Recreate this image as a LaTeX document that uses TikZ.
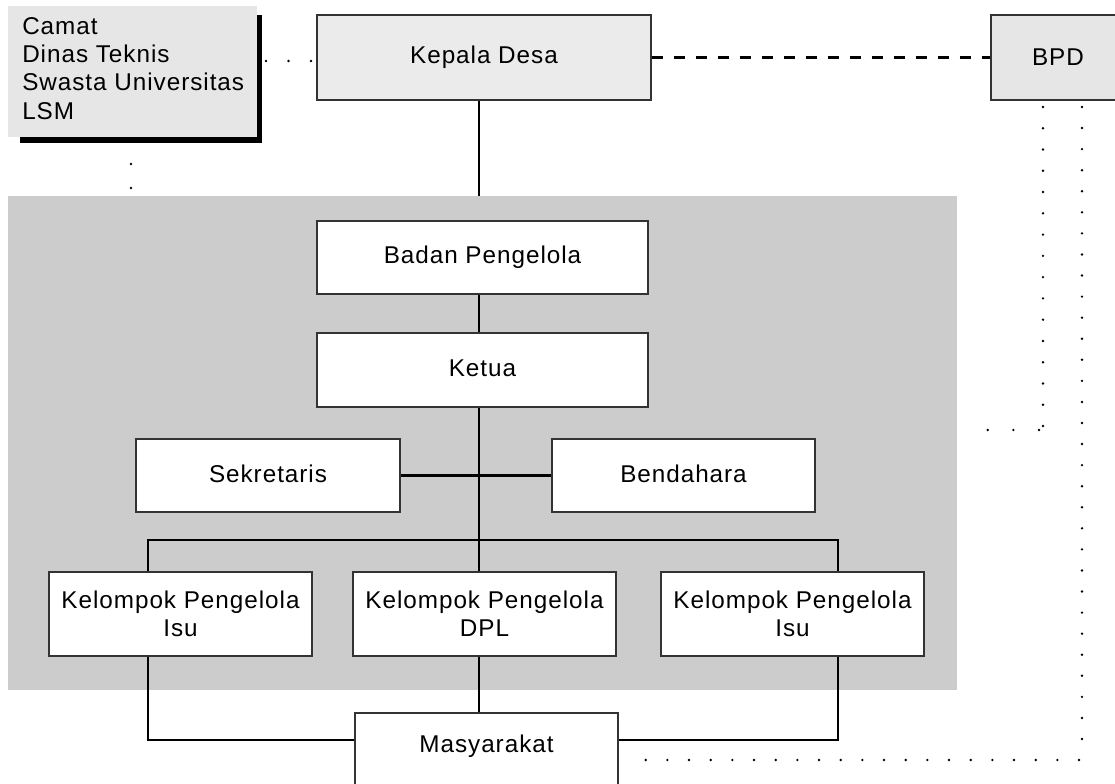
\documentclass[tikz,border=0pt]{standalone}
\usepackage{fontspec}
\setmainfont{Liberation Sans}[LetterSpace=4]
\definecolor{panelgrey}{HTML}{CCCCCC}
\definecolor{topgrey}{HTML}{EBEBEB}
\definecolor{sidegrey}{HTML}{E6E6E6}
\begin{document}
\begin{tikzpicture}[x=0.75pt,y=-0.75pt,
  box/.style={draw=black!80, line width=0.8pt, fill=white, inner sep=0pt,
    font=\fontsize{18.2}{21.25}\selectfont, align=center},
  conn/.style={line width=1.6pt, black},
  dotline/.style={line width=2pt, line cap=round, dash pattern=on 0pt off #1},
  dashline/.style={line width=1.6pt, dash pattern=on 8.25pt off 8.25pt}]
\useasboundingbox (0,0) rectangle (1115,784);
\clip (0,0) rectangle (1115,784);
\fill[white] (0,0) rectangle (1115,784);

% panel
\node[fill=panelgrey, inner sep=0pt, minimum width=711.75pt, minimum height=370.5pt] (panel) at (482.5,443) {};

% top left box with shadow
\node[fill=black, inner sep=0pt, minimum width=181.5pt, minimum height=96pt] (shadow) at (141,79) {};
\node[fill=sidegrey, inner sep=0pt, minimum width=186.75pt, minimum height=98.25pt] (leftbox) at (132.5,71.5) {};
\node[anchor=north west, inner sep=0pt, align=left, font=\fontsize{18.2}{21.25}\selectfont] (lefttext) at (22,17)
  {Camat\\Dinas Teknis\\Swasta Universitas\\LSM};

% top boxes
\node[box, fill=topgrey, minimum width=250.5pt, minimum height=63.75pt] (kepala) at (484,57.5) {Kepala Desa};
\node[box, fill=sidegrey, minimum width=100.5pt, minimum height=63.75pt] (bpd) at (1058,57.5) {BPD};

% inner structure
\node[box, minimum width=248.25pt, minimum height=54.75pt] (badan) at (482.5,257.5) {Badan Pengelola};
\node[box, minimum width=248.25pt, minimum height=55.5pt, text depth=0.35em] (ketua) at (482.5,370) {Ketua};
\node[box, minimum width=198pt, minimum height=54.75pt, text depth=0.2em] (sek) at (268,475.5) {Sekretaris};
\node[box, minimum width=197.25pt, minimum height=54.75pt, text depth=0.2em] (ben) at (683.5,475.5) {Bendahara};
\node[box, minimum width=197.25pt, minimum height=63pt] (kpl) at (180.5,614) {Kelompok Pengelola\\Isu};
\node[box, minimum width=197.25pt, minimum height=63pt] (dpl) at (484.5,614) {Kelompok Pengelola\\DPL};
\node[box, minimum width=197.25pt, minimum height=63pt] (kpr) at (792.5,614) {Kelompok Pengelola\\Isu};
\node[box, minimum width=197.25pt, minimum height=65.25pt] (masy) at (486.5,756.5) {};
\node[inner sep=0pt, font=\fontsize{18.2}{21.25}\selectfont] (masytext) at (486.5,746) {Masyarakat};

% reference coordinates
\coordinate (spine) at (479,0);
\coordinate (lx) at (148,540);
\coordinate (rx) at (838,540);
\coordinate (bar) at (479,540);
\coordinate (low) at (0,740);

% solid connectors
\draw[conn] (kepala.south -| spine) -- (panel.north -| spine);
\draw[conn] (badan.south -| spine) -- (ketua.north -| spine);
\draw[conn] (ketua.south -| spine) -- (bar);
\draw[conn] (sek.east) -- (ben.west);
\draw[conn] (kpl.north -| lx) -- (lx) -- (rx) -- (kpr.north -| rx);
\draw[conn] (bar) -- (dpl.north -| spine);
\draw[conn] (dpl.south -| spine) -- (masy.north -| spine);
\draw[conn] (kpl.south -| lx) -- (lx |- low) -- (masy.west |- low);
\draw[conn] (kpr.south -| rx) -- (rx |- low) -- (masy.east |- low);

% dashed connector
\draw[dashline] (kepala.east) -- (bpd.west);

% dotted connectors
\coordinate (d1a) at (266,61);
\coordinate (d1b) at (311,61);
\draw[dotline=16.875pt] (d1a) -- (d1b);
\coordinate (d2a) at (131,164);
\coordinate (d2b) at (131,188);
\draw[dotline=18pt] (d2a) -- (d2b);
\coordinate (d3a) at (1043,107);
\coordinate (d3b) at (1043,426);
\draw[dotline=15.95pt] (d3a) -- (d3b);
\coordinate (d4a) at (1039,430);
\coordinate (d4b) at (962,430);
\draw[dotline=19.25pt] (d4a) -- (d4b);
\coordinate (d5a) at (1082,107);
\coordinate (d5b) at (1082,760);
\draw[dotline=15.8pt] (d5a) -- (d5b);
\coordinate (d6a) at (1079,760);
\coordinate (d6b) at (624,760);
\draw[dotline=16.25pt] (d6a) -- (d6b);
\end{tikzpicture}
\end{document}
